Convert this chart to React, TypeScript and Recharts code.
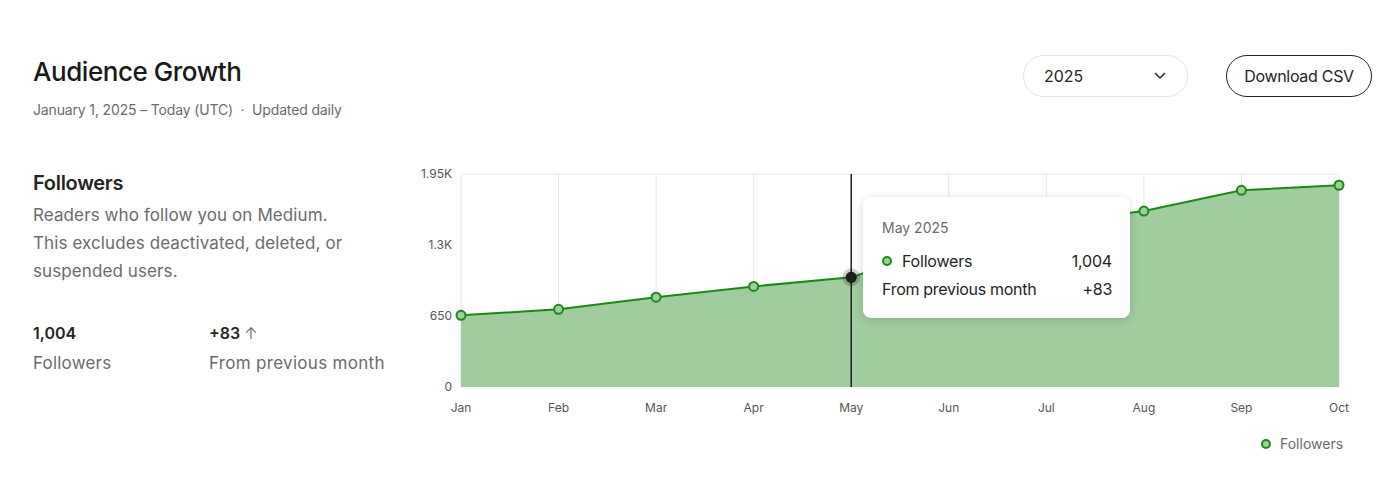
import React from "react";
import {
  AreaChart,
  Area,
  XAxis,
  YAxis,
  CartesianGrid,
  Tooltip,
  ReferenceLine,
} from "recharts";

const months = ["Jan", "Feb", "Mar", "Apr", "May", "Jun", "Jul", "Aug", "Sep", "Oct"];
const followers = [656, 711, 822, 921, 1004, 1310, 1500, 1611, 1801, 1847];
const yTicks = [0, 650, 1300, 1950];
const year = "2025";

const data = months.map((m, i) => ({ month: m, followers: followers[i] }));

const GREEN = "#1a8917";
const FILL = "#9fcd9e";
const FONT = "Inter, 'Noto Sans', sans-serif";

const fmtTick = (v: number) => (v >= 1000 ? `${v / 1000}K` : `${v}`);
const fmtNum = (v: number) => v.toLocaleString("en-US");

const CustomTooltip = (props: any) => {
  const { active, payload, label } = props;
  if (!active || !payload || !payload.length) return null;
  const idx = months.indexOf(label);
  const value = followers[idx];
  const prev = idx > 0 ? followers[idx - 1] : value;
  const diff = value - prev;
  return (
    <div
      style={{
        width: 267,
        boxSizing: "border-box",
        background: "#fff",
        borderRadius: 8,
        boxShadow: "0 2px 10px rgba(0,0,0,0.15)",
        padding: "21px 18px 15px 19px",
        fontFamily: FONT,
        color: "#242424",
      }}
    >
      <div style={{ fontSize: 14, lineHeight: "20px", color: "#6b6b6b", marginBottom: 9 }}>
        {label} {year}
      </div>
      <div style={{ display: "flex", alignItems: "center", height: 28, fontSize: 16, letterSpacing: -0.2 }}>
        <svg width={20} height={12} style={{ flex: "none" }}>
          <circle cx={5} cy={6} r={4} fill={FILL} stroke={GREEN} strokeWidth={2} />
        </svg>
        <span style={{ flex: 1 }}>Followers</span>
        <span>{fmtNum(value)}</span>
      </div>
      <div style={{ display: "flex", alignItems: "center", height: 28, fontSize: 16, letterSpacing: -0.3 }}>
        <span style={{ flex: 1 }}>From previous month</span>
        <span>{diff >= 0 ? `+${diff}` : `${diff}`}</span>
      </div>
    </div>
  );
};

const ActiveDot = (props: any) => {
  const { cx, cy } = props;
  if (cx == null || cy == null) return null;
  return (
    <g>
      <circle cx={cx} cy={cy} r={9} fill="rgba(0,0,0,0.18)" />
      <circle cx={cx} cy={cy} r={5.5} fill="#1f1f1f" />
    </g>
  );
};

const abs = (left: number, top: number, extra: React.CSSProperties = {}): React.CSSProperties => ({
  position: "absolute",
  left,
  top,
  whiteSpace: "nowrap",
  ...extra,
});

export default function App() {
  const latest = followers[4];
  const change = followers[4] - followers[3];
  return (
    <div
      style={{
        position: "absolute",
        left: 0,
        top: 0,
        width: 1400,
        height: 481,
        background: "#fff",
        fontFamily: FONT,
        color: "#242424",
        overflow: "hidden",
      }}
    >
      <div style={abs(33, 55, { fontSize: 26, fontWeight: 500, letterSpacing: -0.45, lineHeight: "34px", color: "#191919" })}>
        Audience Growth
      </div>
      <div style={abs(33, 100, { fontSize: 14, lineHeight: "20px", color: "#6b6b6b", letterSpacing: -0.15 })}>
        January 1, 2025 – Today (UTC)&nbsp; · &nbsp;Updated daily
      </div>

      <div
        style={abs(1023, 55, {
          width: 165,
          height: 42,
          boxSizing: "border-box",
          border: "1px solid #e5e5e5",
          borderRadius: 21,
          fontSize: 16,
          display: "flex",
          alignItems: "center",
          padding: "0 20px",
          justifyContent: "space-between",
        })}
      >
        <span>2025</span>
        <svg width={14} height={10}>
          <path d="M2 2 L7 7 L12 2" fill="none" stroke="#242424" strokeWidth={1.5} />
        </svg>
      </div>
      <div
        style={abs(1226, 55, {
          width: 146,
          height: 42,
          boxSizing: "border-box",
          border: "1px solid #242424",
          borderRadius: 21,
          fontSize: 16,
          letterSpacing: -0.3,
          display: "flex",
          alignItems: "center",
          justifyContent: "center",
        })}
      >
        Download CSV
      </div>

      <div style={abs(33, 169, { fontSize: 20, fontWeight: 600, lineHeight: "28px", letterSpacing: -0.3 })}>
        Followers
      </div>
      <div style={abs(33, 201, { fontSize: 17, lineHeight: "28px", color: "#6b6b6b", whiteSpace: "normal", width: 340, letterSpacing: 0.1 })}>
        Readers who follow you on Medium.
        <br />
        This excludes deactivated, deleted, or
        <br />
        suspended users.
      </div>
      <div style={abs(33, 321, { fontSize: 16, fontWeight: 600, lineHeight: "24px" })}>{fmtNum(latest)}</div>
      <div style={abs(33, 350, { fontSize: 17, lineHeight: "26px", color: "#6b6b6b", letterSpacing: 0.2 })}>Followers</div>
      <div style={abs(209, 321, { fontSize: 16, fontWeight: 600, lineHeight: "24px" })}>
        +{change} <span style={{ fontWeight: 300, color: "#555" }}>↑</span>
      </div>
      <div style={abs(209, 350, { fontSize: 17, lineHeight: "26px", color: "#6b6b6b", letterSpacing: 0.3 })}>From previous month</div>

      <div style={abs(410, 160)}>
        <AreaChart
          width={949}
          height={257}
          data={data}
          margin={{ top: 14, right: 20, bottom: 0, left: 0 }}
        >
          <CartesianGrid vertical={true} horizontal={false} stroke="#e6e6e6" />
          <ReferenceLine y={1950} stroke="#e6e6e6" />
          <XAxis
            dataKey="month"
            axisLine={false}
            tickLine={false}
            tickSize={0}
            tickMargin={16}
            height={30}
            interval={0}
            tick={{ fontSize: 12, fill: "#555", fontFamily: FONT }}
          />
          <YAxis
            domain={[0, 1950]}
            ticks={yTicks}
            tickFormatter={fmtTick}
            axisLine={false}
            tickLine={false}
            tickSize={0}
            tickMargin={9}
            width={51}
            tick={{ fontSize: 12, fill: "#555", fontFamily: FONT }}
          />
          <Tooltip
            defaultIndex={4}
            content={<CustomTooltip />}
            cursor={{ stroke: "#1f1f1f", strokeWidth: 1.5 }}
            position={{ x: 453, y: 37 }}
            isAnimationActive={false}
            wrapperStyle={{ outline: "none" }}
          />
          <Area
            type="linear"
            dataKey="followers"
            stroke={GREEN}
            strokeWidth={2}
            fill={FILL}
            fillOpacity={1}
            dot={{ r: 4.5, fill: FILL, stroke: GREEN, strokeWidth: 2 }}
            activeDot={<ActiveDot />}
            isAnimationActive={false}
          />
        </AreaChart>
      </div>

      <div style={abs(1258, 434, { display: "flex", alignItems: "center", fontSize: 14, lineHeight: "20px", color: "#6b6b6b" })}>
        <svg width={22} height={12}>
          <circle cx={8} cy={6} r={4} fill={FILL} stroke={GREEN} strokeWidth={2} />
        </svg>
        <span>Followers</span>
      </div>
    </div>
  );
}
